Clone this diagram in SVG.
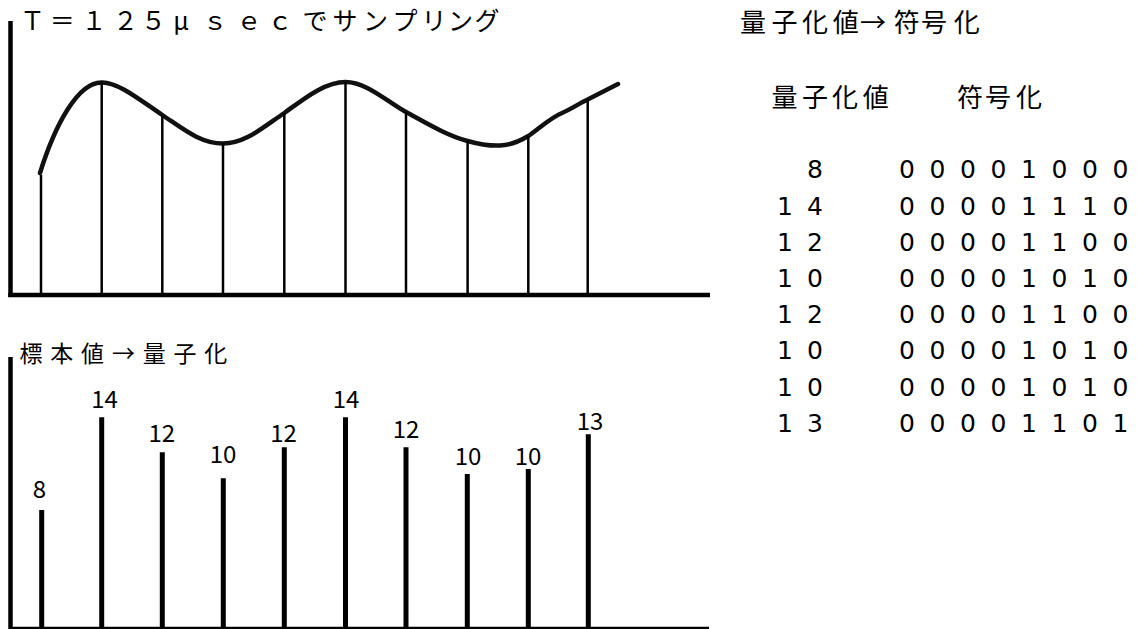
<svg xmlns="http://www.w3.org/2000/svg" width="1137" height="629" viewBox="0 0 1137 629">
<style>
.axis{stroke:#000;stroke-width:4.5;fill:none}
.samp{stroke:#000;stroke-width:2.5;fill:none}
.bar{stroke:#000;stroke-width:5;fill:none}
.wave{stroke:#111;stroke-width:4.5;fill:none;stroke-linecap:round}
.jp{font-family:"Noto Sans CJK JP","Noto Sans",sans-serif;fill:#000}
.num{font-family:"DejaVu Sans","Liberation Sans",sans-serif;font-size:25px;fill:#000;text-anchor:middle}
.lbl{font-family:"Noto Sans CJK JP","Noto Sans",sans-serif;font-size:24px;fill:#000;text-anchor:middle}
</style>
<rect width="1137" height="629" fill="#fff"/>

<g id="sampling-chart">
  <text class="jp" font-size="25" text-anchor="middle" x="32.6 62.3 94 125.5 153.5 181 215 249 280 315 345 375.5 405 434 460.5 487" y="30">Ｔ＝１２５μｓｅｃでサンプリング</text>
  <line class="axis" x1="10.5" y1="21" x2="10.5" y2="297"/>
  <line class="axis" x1="8.3" y1="295" x2="710" y2="295"/>
  <path class="wave" d="M40,173 C55,125 78,82 101.7,82.5 C118,82 140,100 162.3,115 C182,128 200,143.5 223,143.5 C245,143.5 262,128 284.3,113 C305,98 325,82 345.5,82 C366,82 385,100 406,112 C428,124 448,136 467.6,141 C480,144.5 490,146 500,145.5 C512,145 520,141 528.3,136 C540,128 550,118 562,113 C572,108.5 580,103 587.7,99.5 L618,84"/>
  <g id="samples">
    <line class="samp" x1="41" y1="175" x2="41" y2="295"/>
    <line class="samp" x1="101.7" y1="82.5" x2="101.7" y2="295"/>
    <line class="samp" x1="162.3" y1="115" x2="162.3" y2="295"/>
    <line class="samp" x1="223" y1="143.5" x2="223" y2="295"/>
    <line class="samp" x1="284.3" y1="113" x2="284.3" y2="295"/>
    <line class="samp" x1="345.5" y1="82" x2="345.5" y2="295"/>
    <line class="samp" x1="406" y1="112" x2="406" y2="295"/>
    <line class="samp" x1="467.6" y1="141" x2="467.6" y2="295"/>
    <line class="samp" x1="528.3" y1="136" x2="528.3" y2="295"/>
    <line class="samp" x1="587.7" y1="99.5" x2="587.7" y2="295"/>
  </g>
</g>

<g id="quantize-chart">
  <text class="jp" font-size="23" text-anchor="middle" x="31 61.8 92.6 123.4 154.2 185 215.8" y="362">標本値→量子化</text>
  <line class="axis" x1="10.5" y1="357" x2="10.5" y2="629"/>
  <line stroke="#000" stroke-width="2.5" x1="9" y1="628" x2="709" y2="628"/>
  <g id="bars">
    <line class="bar" x1="41.7" y1="510" x2="41.7" y2="628"/>
    <line class="bar" x1="101.7" y1="417.3" x2="101.7" y2="628"/>
    <line class="bar" x1="162.3" y1="452.3" x2="162.3" y2="628"/>
    <line class="bar" x1="223.3" y1="478.3" x2="223.3" y2="628"/>
    <line class="bar" x1="284.3" y1="447.3" x2="284.3" y2="628"/>
    <line class="bar" x1="345.5" y1="417.3" x2="345.5" y2="628"/>
    <line class="bar" x1="406" y1="447.3" x2="406" y2="628"/>
    <line class="bar" x1="467.3" y1="474" x2="467.3" y2="628"/>
    <line class="bar" x1="528.3" y1="469" x2="528.3" y2="628"/>
    <line class="bar" x1="588.3" y1="434.3" x2="588.3" y2="628"/>
  </g>
  <g id="bar-labels">
    <text class="lbl" x="39.5" y="498">8</text>
    <text class="lbl" x="104.5" y="408">14</text>
    <text class="lbl" x="161.7" y="442">12</text>
    <text class="lbl" x="223" y="463">10</text>
    <text class="lbl" x="283.5" y="442">12</text>
    <text class="lbl" x="346" y="408">14</text>
    <text class="lbl" x="406" y="438">12</text>
    <text class="lbl" x="468" y="465">10</text>
    <text class="lbl" x="528" y="465">10</text>
    <text class="lbl" x="590" y="430">13</text>
  </g>
</g>

<g id="coding-table">
  <text class="jp" font-size="26" text-anchor="middle" x="753 784.5 815 845.8 873 906.7 934 966.7" y="32">量子化値→符号化</text>
  <text class="jp" font-size="26" text-anchor="middle" x="784.5 815 845 875.8" y="107">量子化値</text>
  <text class="jp" font-size="26" text-anchor="middle" x="970 998 1029" y="107">符号化</text>
  <g id="values">
    <text class="num" x="815" y="178.3">8</text>
    <text class="num" x="785 815" y="214.5">14</text>
    <text class="num" x="785 815" y="250.7">12</text>
    <text class="num" x="785 815" y="286.9">10</text>
    <text class="num" x="785 815" y="323.1">12</text>
    <text class="num" x="785 815" y="359.3">10</text>
    <text class="num" x="785 815" y="395.5">10</text>
    <text class="num" x="785 815" y="431.7">13</text>
  </g>
  <g id="codes">
    <text class="num" x="907 937.5 968 998.5 1029 1059.5 1090 1120.5" y="178.3">00001000</text>
    <text class="num" x="907 937.5 968 998.5 1029 1059.5 1090 1120.5" y="214.5">00001110</text>
    <text class="num" x="907 937.5 968 998.5 1029 1059.5 1090 1120.5" y="250.7">00001100</text>
    <text class="num" x="907 937.5 968 998.5 1029 1059.5 1090 1120.5" y="286.9">00001010</text>
    <text class="num" x="907 937.5 968 998.5 1029 1059.5 1090 1120.5" y="323.1">00001100</text>
    <text class="num" x="907 937.5 968 998.5 1029 1059.5 1090 1120.5" y="359.3">00001010</text>
    <text class="num" x="907 937.5 968 998.5 1029 1059.5 1090 1120.5" y="395.5">00001010</text>
    <text class="num" x="907 937.5 968 998.5 1029 1059.5 1090 1120.5" y="431.7">00001101</text>
  </g>
</g>
</svg>
